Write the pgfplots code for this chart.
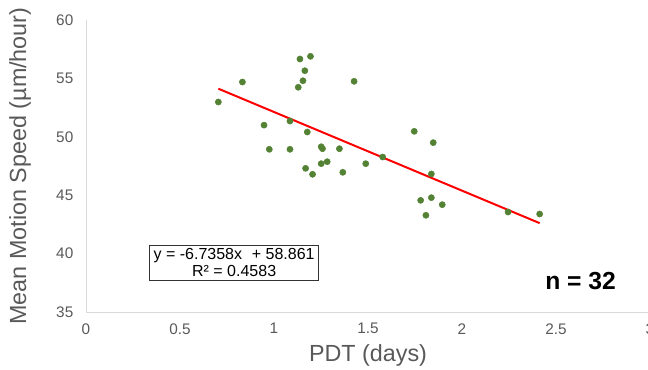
\documentclass[border=0pt]{standalone}
\usepackage{fontspec}
\setmainfont{Liberation Sans}
\usepackage{pgfplots}
\pgfplotsset{compat=1.18}
\definecolor{ptgreen}{HTML}{548235}
\definecolor{axgray}{HTML}{D9D9D9}
\definecolor{txtgray}{HTML}{595959}
\begin{document}
\begin{tikzpicture}
\begin{axis}[
  at={(64.5pt,42.75pt)}, anchor=south west,
  scale only axis, width=423pt, height=219pt,
  xmin=0, xmax=3, ymin=35, ymax=60,
  xtick={0,0.5,1,1.5,2,2.5,3}, ytick={35,40,45,50,55,60},
  axis x line*=bottom, axis y line*=left,
  axis line style={axgray, line width=0.75pt},
  major tick length=0pt,
  /pgf/number format/assume math mode=true,
  tick label style={font=\fontsize{11.5}{13}\selectfont, text=txtgray},
  xticklabel style={yshift=-5pt},
  yticklabel style={xshift=-6pt},
  xlabel={PDT (days)}, ylabel={Mean Motion Speed (µm/hour)},
  label style={font=\fontsize{17.5}{20}\selectfont, text=txtgray},
  xlabel style={at={(axis description cs:0.5,0)}, anchor=center, yshift=-32.25pt},
  ylabel style={at={(axis description cs:0,0.5)}, anchor=center, yshift=49.5pt},
  clip=false,
]
\addplot[only marks, mark=*, mark size=2.3pt, mark options={fill=ptgreen, draw=ptgreen}] table {
x y
0.704 52.98
0.832 54.69
1.138 56.66
1.194 56.89
1.164 55.66
1.154 54.80
1.129 54.24
1.426 54.75
0.947 51.00
1.085 51.35
1.177 50.41
0.975 48.93
1.085 48.93
1.251 49.15
1.258 48.98
1.348 48.98
1.168 47.30
1.205 46.79
1.251 47.70
1.283 47.87
1.366 46.96
1.488 47.70
1.578 48.27
1.746 50.47
1.847 49.50
1.837 46.82
1.780 44.56
1.837 44.79
1.895 44.19
1.808 43.28
2.245 43.56
2.413 43.39
};
\addplot[red, line width=1.5pt] coordinates {(0.704,54.119) (2.413,42.608)};
\node[draw=black!80, line width=0.6pt, align=center, font=\fontsize{12}{12.8}\selectfont, inner xsep=3pt, inner ysep=2.5pt] at (axis cs:0.788,39.24) {y = -6.7358x\,\, + 58.861\\R² = 0.4583};
\node[font=\fontsize{18.5}{20}\selectfont\bfseries] at (axis cs:2.631,37.68) {n = 32};
\end{axis}
\pgfresetboundingbox
\path[use as bounding box] (0,0) rectangle (486pt,276.75pt);
\end{tikzpicture}
\end{document}
